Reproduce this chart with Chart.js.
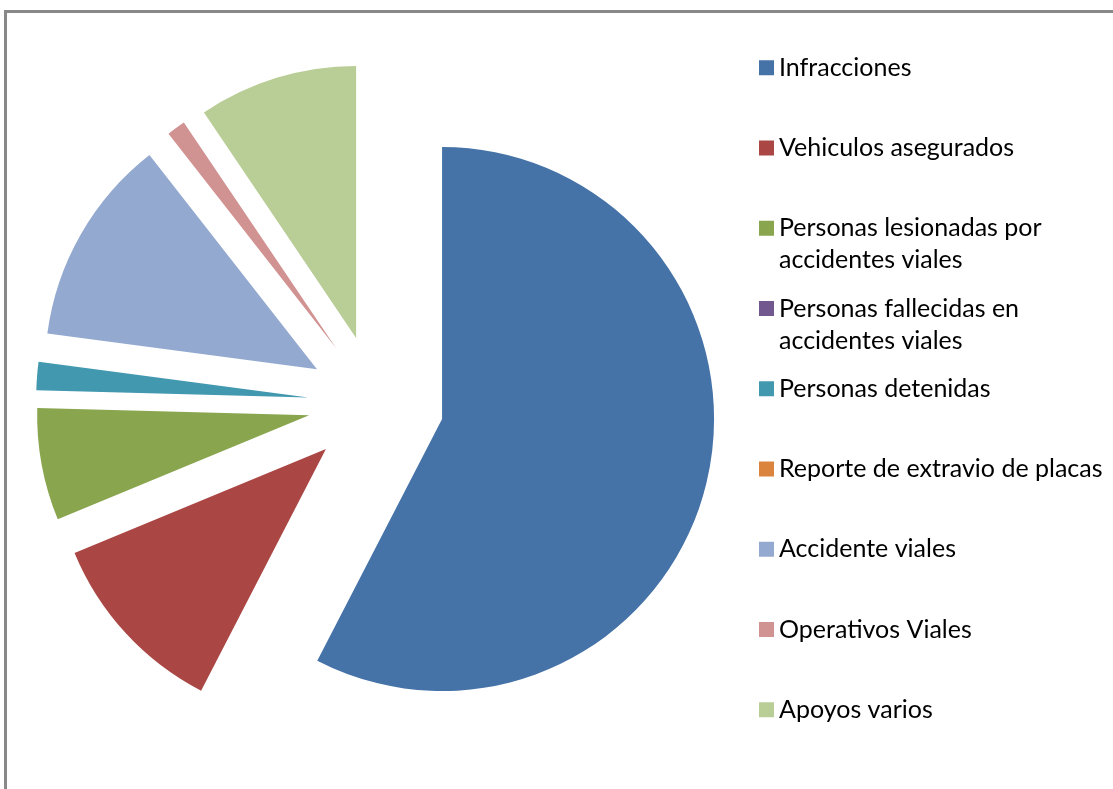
<!DOCTYPE html>
<html>
<head>
<meta charset="utf-8">
<script src="https://cdn.jsdelivr.net/npm/chart.js@4.4.1/dist/chart.umd.min.js"></script>
<style>
  html, body { margin: 0; padding: 0; background: #fff; overflow: hidden; }
  #frame { position: absolute; left: 4px; top: 10px; width: 1200px; height: 900px; border: 3px solid #888; }
  #myChart { position: absolute; left: 0; top: 0; }
</style>
</head>
<body>
<div id="frame"></div>
<canvas id="myChart" width="1113" height="789"></canvas>
<script>
const categories = [
  'Infracciones',
  'Vehiculos asegurados',
  'Personas lesionadas por accidentes viales',
  'Personas fallecidas en accidentes viales',
  'Personas detenidas',
  'Reporte de extravio de placas',
  'Accidente viales',
  'Operativos Viales',
  'Apoyos varios'
];
const values = [1036, 201, 120, 0, 30, 0, 222, 20, 170];
const colors = ['#4572A7', '#AA4643', '#89A54E', '#71588F', '#4198AF', '#DB843D', '#93A9CF', '#D19392', '#B9CD96'];

const explode = 68;      // distance each slice is pulled out
const fontSize = 25;
const legendPad = 16.25;

// right padding so the legend text starts where the original one does
var ctx = document.getElementById('myChart').getContext('2d');
ctx.font = fontSize + 'px Lato';
let widest = 0;
categories.forEach(c => {
  const t = c.length > 30 ? c.slice(0, c.lastIndexOf(' ', 24)) : c;
  widest = Math.max(widest, ctx.measureText(t).width);
});
const legendLeft = 766.5 - legendPad;
const padRight = Math.max(0, 1113 - (legendLeft + legendPad + 0.01 + fontSize / 2 + widest + 10));

const explodePlugin = {
  id: 'explode',
  afterDatasetsUpdate(chart) {
    const area = chart.chartArea;
    const cx = (area.left + area.right) / 2;
    const cy = (area.top + area.bottom) / 2;
    chart.getDatasetMeta(0).data.forEach(arc => {
      const mid = (arc.startAngle + arc.endAngle) / 2;
      arc.x = cx + Math.cos(mid) * explode;
      arc.y = cy + Math.sin(mid) * explode;
    });
  }
};

const myChart = new Chart(ctx, {
  type: 'pie',
  data: {
    labels: categories,
    datasets: [{
      data: values,
      backgroundColor: colors,
      borderWidth: 0,
      radius: 272
    }]
  },
  options: {
    responsive: false,
    animation: false,
    layout: { padding: { left: 752 - legendLeft, right: padRight, top: 39, bottom: 22 } },
    plugins: {
      tooltip: { enabled: false },
      legend: {
        position: 'right',
        align: 'start',
        labels: {
          color: '#000',
          font: { family: 'Lato', size: fontSize, lineHeight: '32px' },
          padding: legendPad,
          usePointStyle: true,
          pointStyle: 'rect',
          boxWidth: 0.01,
          boxHeight: 15,
          generateLabels(chart) {
            const items = Chart.overrides.doughnut.plugins.legend.labels.generateLabels(chart);
            items.forEach((item, i) => {
              const t = categories[i];
              if (i === items.length - 1) {
                item.text = t;
              } else if (t.length > 30) {
                const k = t.lastIndexOf(' ', 24);
                item.text = [t.slice(0, k), t.slice(k + 1)];
              } else {
                item.text = [t, ''];
              }
            });
            return items;
          }
        }
      }
    }
  },
  plugins: [explodePlugin]
});
</script>
</body>
</html>
